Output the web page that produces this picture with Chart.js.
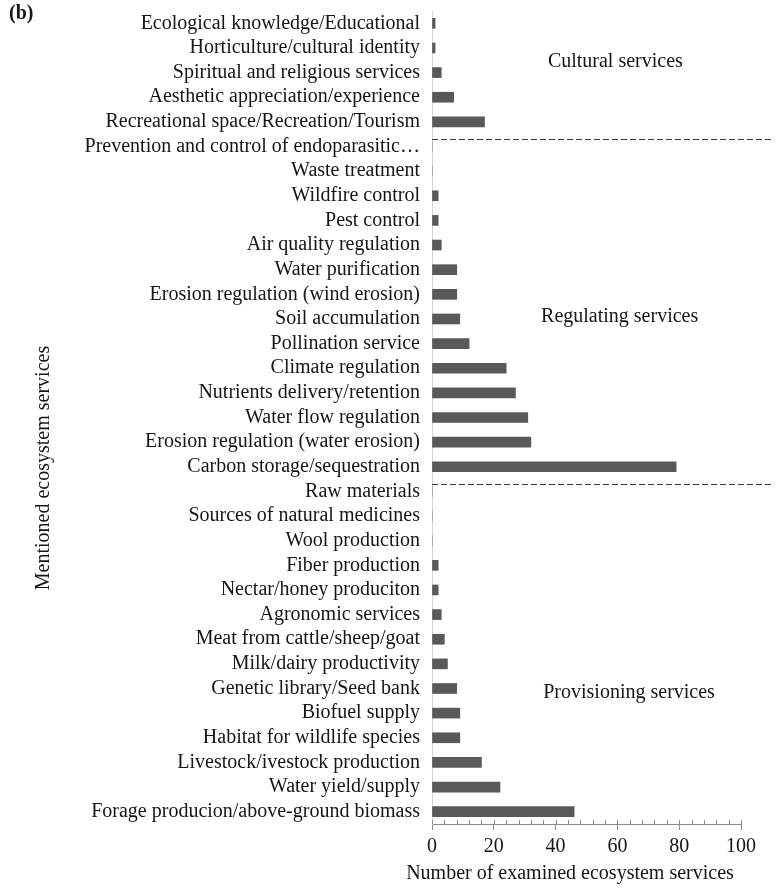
<!DOCTYPE html>
<html>
<head>
<meta charset="utf-8">
<script src="https://cdn.jsdelivr.net/npm/chart.js@4.4.1/dist/chart.umd.min.js"></script>
<style>
  html, body { margin: 0; padding: 0; background: #fff; }
  #wrap { width: 776px; height: 889px; }
</style>
</head>
<body>
<div id="wrap"><canvas id="chart" width="776" height="889"></canvas></div>
<script>
// services, top to bottom
const services = [
  "Ecological knowledge/Educational",
  "Horticulture/cultural identity",
  "Spiritual and religious services",
  "Aesthetic appreciation/experience",
  "Recreational space/Recreation/Tourism",
  "Prevention and control of endoparasitic\u2026",
  "Waste treatment",
  "Wildfire control",
  "Pest control",
  "Air quality regulation",
  "Water purification",
  "Erosion regulation (wind erosion)",
  "Soil accumulation",
  "Pollination service",
  "Climate regulation",
  "Nutrients delivery/retention",
  "Water flow regulation",
  "Erosion regulation (water erosion)",
  "Carbon storage/sequestration",
  "Raw materials",
  "Sources of natural medicines",
  "Wool production",
  "Fiber production",
  "Nectar/honey produciton",
  "Agronomic services",
  "Meat from cattle/sheep/goat",
  "Milk/dairy productivity",
  "Genetic library/Seed bank",
  "Biofuel supply",
  "Habitat for wildlife species",
  "Livestock/ivestock production",
  "Water yield/supply",
  "Forage producion/above-ground biomass"
];

const counts = [
  1, 1, 3, 7, 17,
  0, 0, 2, 2, 3, 8, 8, 9, 12, 24, 27, 31, 32, 79,
  0, 0, 0, 2, 2, 3, 4, 5, 8, 9, 9, 16, 22, 46
];

const groupNames = ["Cultural services", "Regulating services", "Provisioning services"];
// last index of the cultural and regulating groups
const groupEnds = [4, 18];

const xTicks = [0, 20, 40, 60, 80, 100];

const FONT = "'Liberation Serif', 'Times New Roman', serif";

const extras = {
  id: "extras",
  afterDraw(chart) {
    const { ctx, chartArea, scales } = chart;
    const x = scales.x, y = scales.y;
    ctx.save();

    // minor ticks on the value axis, pointing inward
    ctx.strokeStyle = "#8c8c8c";
    ctx.lineWidth = 1;
    for (let v = 0; v <= 100; v += 4) {
      const px = Math.round(x.getPixelForValue(v)) + 0.5;
      ctx.beginPath();
      ctx.moveTo(px, chartArea.bottom);
      ctx.lineTo(px, chartArea.bottom - 4);
      ctx.stroke();
    }

    // dashed separators between the service groups
    ctx.strokeStyle = "#3a3a3a";
    ctx.setLineDash([6, 3]);
    groupEnds.forEach((idx) => {
      const py = Math.round(y.getPixelForValue(idx + 0.68)) + 0.5;
      ctx.beginPath();
      ctx.moveTo(chartArea.left, py);
      ctx.lineTo(chart.width - 4, py);
      ctx.stroke();
    });
    ctx.setLineDash([]);

    // group names
    ctx.fillStyle = "#151515";
    ctx.font = "20px " + FONT;
    ctx.textBaseline = "middle";
    ctx.textAlign = "left";
    const anchors = [[37.5, 1.54], [35.3, 11.92], [36, 27.17]];
    groupNames.forEach((name, i) => {
      ctx.fillText(name, x.getPixelForValue(anchors[i][0]), y.getPixelForValue(anchors[i][1]));
    });

    // axis titles
    ctx.textAlign = "center";
    ctx.fillText("Number of examined ecosystem services", 570, 874);
    ctx.save();
    ctx.translate(44, 468);
    ctx.rotate(-Math.PI / 2);
    ctx.fillText("Mentioned ecosystem services", 0, 0);
    ctx.restore();

    // panel letter
    ctx.textAlign = "left";
    ctx.font = "bold 20px " + FONT;
    ctx.fillText("(b)", 9, 14);

    ctx.restore();
  }
};

new Chart(document.getElementById("chart").getContext("2d"), {
  type: "bar",
  data: {
    labels: services,
    datasets: [
      {
        data: counts,
        backgroundColor: "#595959",
        borderWidth: 0,
        barThickness: 10
      }
    ]
  },
  options: {
    indexAxis: "y",
    responsive: false,
    animation: false,
    layout: { padding: { top: 11, right: 35, left: 0, bottom: 0 } },
    plugins: {
      legend: { display: false },
      tooltip: { enabled: false }
    },
    scales: {
      x: {
        min: 0,
        max: 100,
        afterBuildTicks: (scale) => {
          scale.ticks = xTicks.map((v) => ({ value: v }));
        },
        afterFit: (scale) => {
          scale.height = 65;
          scale.paddingLeft = 0;
          scale.paddingRight = 0;
        },
        grid: {
          drawOnChartArea: false,
          drawTicks: true,
          tickLength: 6,
          color: "#8c8c8c"
        },
        border: { color: "#8c8c8c" },
        ticks: {
          color: "#151515",
          padding: 5,
          font: { family: FONT, size: 20 },
          maxRotation: 0
        }
      },
      y: {
        afterFit: (scale) => {
          scale.width = 432;
          scale.paddingTop = 0;
          scale.paddingBottom = 0;
        },
        grid: { display: false, drawTicks: false },
        border: { color: "#d4d4d4" },
        ticks: {
          color: "#151515",
          padding: 12,
          autoSkip: false,
          font: { family: FONT, size: 20 }
        }
      }
    }
  },
  plugins: [extras]
});
</script>
</body>
</html>
